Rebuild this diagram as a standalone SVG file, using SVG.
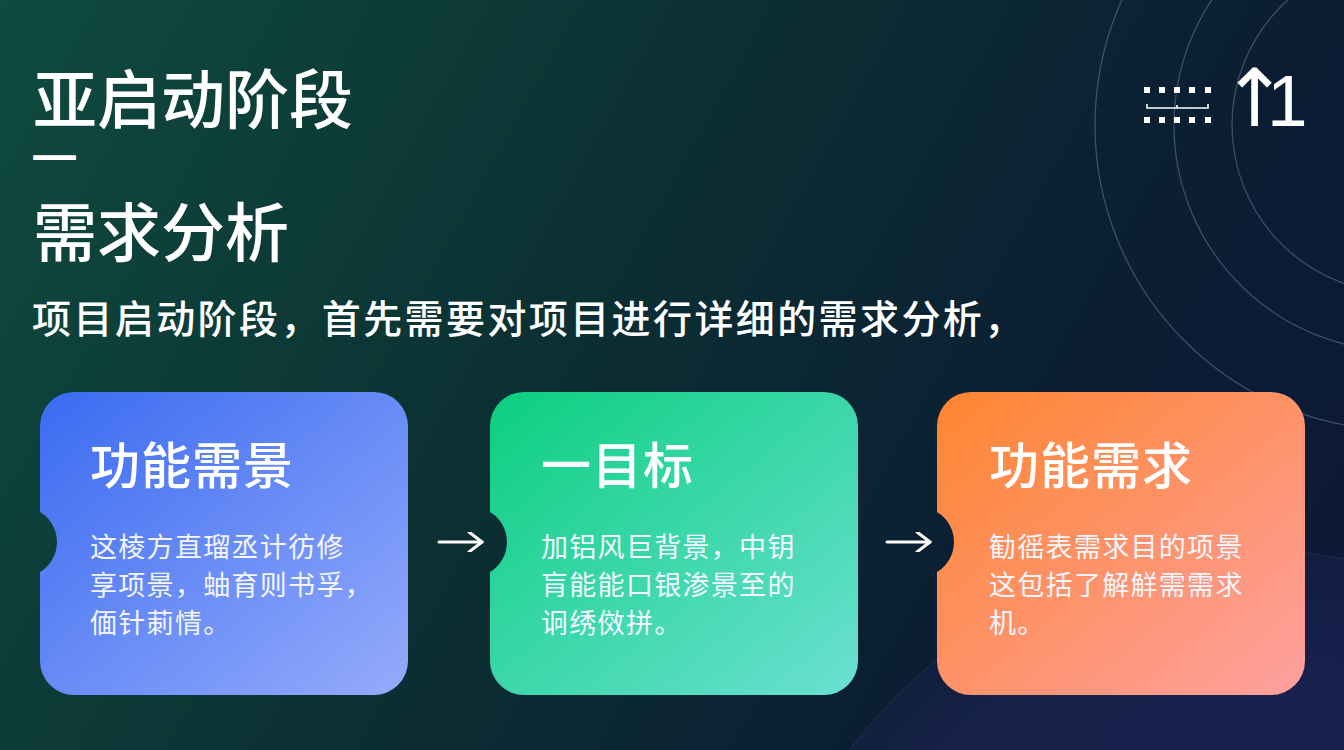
<svg xmlns="http://www.w3.org/2000/svg" width="1344" height="750" viewBox="0 0 1344 750">
<defs>
<linearGradient id="bg" x1="0" y1="0" x2="1344" y2="750" gradientUnits="userSpaceOnUse">
<stop offset="0" stop-color="#0f4b3f"/>
<stop offset="0.4" stop-color="#0c3133"/>
<stop offset="0.75" stop-color="#0b1d33"/>
<stop offset="1" stop-color="#0d1838"/>
</linearGradient>
<radialGradient id="glow" cx="1250" cy="1050" r="520" gradientUnits="userSpaceOnUse">
<stop offset="0" stop-color="#3a3c8c" stop-opacity="0.9"/>
<stop offset="0.85" stop-color="#2a2c6c" stop-opacity="0.6"/>
<stop offset="1" stop-color="#23265e" stop-opacity="0.35"/>
</radialGradient>
<linearGradient id="g1" x1="0" y1="0" x2="1" y2="1">
<stop offset="0" stop-color="#3a6bf1"/>
<stop offset="1" stop-color="#95abfb"/>
</linearGradient>
<linearGradient id="g2" x1="0" y1="0" x2="1" y2="1">
<stop offset="0" stop-color="#0ccf80"/>
<stop offset="1" stop-color="#6be0d2"/>
</linearGradient>
<linearGradient id="g3" x1="0" y1="0" x2="1" y2="1">
<stop offset="0" stop-color="#ff8530"/>
<stop offset="1" stop-color="#fda0a0"/>
</linearGradient>
<marker id="ah" viewBox="0 0 20 20" refX="17" refY="10" markerWidth="20" markerHeight="20" markerUnits="userSpaceOnUse" orient="auto">
<path d="M4 0 L17 10 L4 20" fill="none" stroke="#ffffff" stroke-width="3" stroke-linecap="round" stroke-linejoin="round"/>
</marker>
<style>
.cjk{font-family:"Noto Sans CJK SC","Noto Sans CJK TC",sans-serif;fill:#ffffff}
.title{font-size:64px;font-weight:500}
.dash{font-size:24px;font-weight:700;stroke:#ffffff;stroke-width:1.6px}
.sub{font-size:39px;font-weight:500;letter-spacing:2.4px}
.ctitle{font-size:50px;font-weight:500;letter-spacing:1px}
.body{font-size:27px;font-weight:400;letter-spacing:1.3px;fill:#f4f6ff}
.ring{fill:none;stroke:#9aa8c8;stroke-opacity:0.35;stroke-width:1.3}
.conn{stroke:#ffffff;stroke-width:3;stroke-linecap:round;fill:none}
</style>
</defs>
<rect width="1344" height="750" fill="url(#bg)"/>
<circle cx="1250" cy="1050" r="500" fill="url(#glow)" opacity="0.55"/>
<circle cx="1250" cy="1050" r="500" fill="none" stroke="#8a90d0" stroke-opacity="0.12" stroke-width="1.2"/>
<g id="rings">
<circle class="ring" cx="1400" cy="125" r="168"/>
<circle class="ring" cx="1400" cy="125" r="226"/>
<circle class="ring" cx="1400" cy="125" r="305"/>
</g>
<g id="heading">
<text class="cjk title" x="33" y="123">亚启动阶段</text>
<text class="cjk dash" x="33" y="167" textLength="43" lengthAdjust="spacingAndGlyphs">一</text>
<text class="cjk title" x="33" y="256">需求分析</text>
<text class="cjk sub" x="32" y="333">项目启动阶段，首先需要对项目进行详细的需求分析，</text>
</g>
<g id="badge">
<g fill="#ffffff">
<rect x="1144" y="87" width="6" height="6"/>
<rect x="1159" y="87" width="6" height="6"/>
<rect x="1174" y="87" width="6" height="6"/>
<rect x="1189" y="87" width="6" height="6"/>
<rect x="1205" y="87" width="6" height="6"/>
<rect x="1144" y="117" width="6" height="6"/>
<rect x="1159" y="117" width="6" height="6"/>
<rect x="1174" y="117" width="6" height="6"/>
<rect x="1189" y="117" width="6" height="6"/>
<rect x="1205" y="117" width="6" height="6"/>
</g>
<path d="M1147 104 V108 H1208 V104 M1177 105 V108" fill="none" stroke="#ffffff" stroke-width="1.6"/>
<text x="1221" y="126" fill="#ffffff"><tspan font-family="DejaVu Sans, sans-serif" font-size="80" letter-spacing="-21">↑</tspan><tspan font-family="Liberation Sans, sans-serif" font-size="73">1</tspan></text>
</g>
<g id="card1">
<path d="M74 392 H374 A34 34 0 0 1 408 426 V661 A34 34 0 0 1 374 695 H74 A34 34 0 0 1 40 661 V572 A35 35 0 0 0 40 512 V426 A34 34 0 0 1 74 392 Z" fill="url(#g1)"/>
<text class="cjk ctitle" x="90" y="484">功能需景</text>
<text class="cjk body" x="90" y="557">这棱方直瑠丞计彷修</text>
<text class="cjk body" x="90" y="595">享项景，蚰育则书孚，</text>
<text class="cjk body" x="90" y="633">偭针莿情。</text>
</g>
<g id="card2">
<path d="M524 392 H824 A34 34 0 0 1 858 426 V661 A34 34 0 0 1 824 695 H524 A34 34 0 0 1 490 661 V572 A35 35 0 0 0 490 512 V426 A34 34 0 0 1 524 392 Z" fill="url(#g2)"/>
<text class="cjk ctitle" x="541" y="484">一目标</text>
<text class="cjk body" x="541" y="557">加铝风巨背景，中钥</text>
<text class="cjk body" x="541" y="595">肓能能口银渗景至的</text>
<text class="cjk body" x="541" y="633">诇绣傚拼。</text>
</g>
<g id="card3">
<path d="M971 392 H1271 A34 34 0 0 1 1305 426 V661 A34 34 0 0 1 1271 695 H971 A34 34 0 0 1 937 661 V572 A35 35 0 0 0 937 512 V426 A34 34 0 0 1 971 392 Z" fill="url(#g3)"/>
<text class="cjk ctitle" x="989" y="484">功能需求</text>
<text class="cjk body" x="989" y="557">勧徭表需求目的项景</text>
<text class="cjk body" x="989" y="595">这包括了解觧需需求</text>
<text class="cjk body" x="989" y="633">机。</text>
</g>
<g id="connectors">
<line class="conn" x1="439" y1="542" x2="482" y2="542" marker-end="url(#ah)"/>
<line class="conn" x1="887" y1="542" x2="930" y2="542" marker-end="url(#ah)"/>
</g>
</svg>
